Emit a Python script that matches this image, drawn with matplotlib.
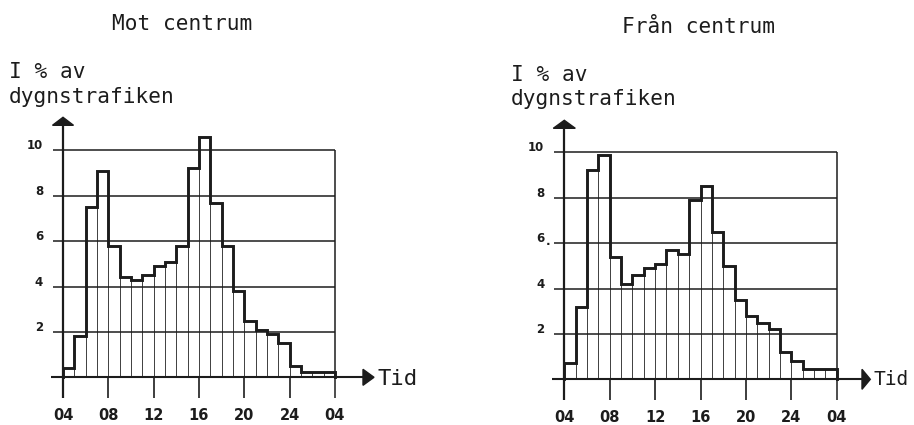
import matplotlib
matplotlib.use("Agg")
import matplotlib.pyplot as plt
from matplotlib.patches import Polygon

# Hourly share of daily traffic (%), hours counted from 04:00
hour_index = list(range(24))
mot_centrum = [0.4, 1.8, 7.5, 9.1, 5.8, 4.4, 4.3, 4.5, 4.9, 5.1, 5.8, 9.2,
               10.6, 7.7, 5.8, 3.8, 2.5, 2.1, 1.9, 1.5, 0.5, 0.25, 0.25, 0.25]
fran_centrum = [0.7, 3.2, 9.2, 9.9, 5.4, 4.2, 4.6, 4.9, 5.1, 5.7, 5.5, 7.9,
                8.5, 6.5, 5.0, 3.5, 2.8, 2.5, 2.2, 1.2, 0.8, 0.45, 0.45, 0.45]

x_tick_pos = [0, 4, 8, 12, 16, 20, 24]
x_tick_labels = ["04", "08", "12", "16", "20", "24", "04"]
y_tick_pos = [2, 4, 6, 8, 10]
y_labels_mot = ["2", "4", "6", "8", "10"]
y_labels_fran = ["2", "4", "6.", "8", "10"]

W, H = 914, 425
INK = "#1c1c1c"
MONO = "DejaVu Sans Mono"
NUM = "DejaVu Sans"
TXT = 15.2

fig = plt.figure(figsize=(W / 100, H / 100), dpi=100)
fig.patch.set_facecolor("white")


def ftext(x, y, s, **kw):
    fig.text(x / W, 1 - y / H, s, **kw)


def panel(ox, oy, sx, sy, values, ylabels, xarrow_base, xarrow_tip, xarrow_half,
          yarrow_base, yarrow_tip, yarrow_half):
    ax = fig.add_axes([ox / W, (H - oy) / H, 24 * sx / W, 10 * sy / H])
    ax.set_xlim(0, 24)
    ax.set_ylim(0, 10)
    ax.axis("off")
    px = lambda d: d / sx
    py = lambda d: d / sy
    kw = dict(color=INK, clip_on=False, solid_capstyle="butt")

    # horizontal reference lines
    for v in y_tick_pos:
        ax.plot([-px(10), 24], [v, v], lw=1.1, **kw)

    # hourly bars (thin dividers)
    ax.bar(hour_index, values, width=1, align="edge", fill=False,
           edgecolor="#444444", lw=0.7, clip_on=False)

    # outline of the distribution
    xs, ys = [0], [0]
    for i, v in enumerate(values):
        xs += [i, i + 1]
        ys += [v, v]
    xs.append(24)
    ys.append(0)
    ax.plot(xs, ys, lw=2.1, color=INK, clip_on=False, solid_joinstyle="miter")

    # axes
    ax.plot([-px(12), px(xarrow_base)], [0, 0], lw=1.5, **kw)
    ax.plot([0, 0], [-py(21), py(yarrow_base)], lw=1.6, **kw)
    ax.plot([24, 24], [-py(21), 10], lw=1.1, **kw)
    for t in x_tick_pos[1:-1]:
        ax.plot([t, t], [-py(21), 0], lw=1.2, **kw)

    # arrow heads
    ax.add_patch(Polygon([(px(xarrow_base), py(xarrow_half)),
                          (px(xarrow_tip), 0),
                          (px(xarrow_base), -py(xarrow_half))],
                         closed=True, color=INK, clip_on=False))
    ax.add_patch(Polygon([(-px(yarrow_half), py(yarrow_base)),
                          (0, py(yarrow_tip)),
                          (px(yarrow_half), py(yarrow_base))],
                         closed=True, color=INK, clip_on=False))

    # tick labels
    for t, lab in zip(x_tick_pos, x_tick_labels):
        ax.text(t, -py(38), lab, ha="center", va="center", fontsize=10.5,
                fontweight="bold", family=NUM, color=INK)
    for v, lab in zip(y_tick_pos, ylabels):
        if lab.endswith("."):
            ax.text(-px(20), v + py(4.5), lab[:-1], ha="right", va="center",
                    fontsize=8.5, fontweight="bold", family=NUM, color=INK)
            ax.text(-px(19), v + py(1.5), ".", ha="left", va="center",
                    fontsize=8.5, fontweight="bold", family=NUM, color=INK)
        else:
            ax.text(-px(20), v + py(4.5), lab, ha="right", va="center",
                    fontsize=8.5, fontweight="bold", family=NUM, color=INK)
    return ax


panel(63, 377.3, 11.33, 22.7, mot_centrum, y_labels_mot,
      300, 311, 8, 252, 260, 10.5)
panel(564.3, 379.3, 11.35, 22.7, fran_centrum, y_labels_fran,
      297.7, 306, 10, 251, 259, 11)

# titles and axis captions
ftext(182.5, 24, "Mot centrum", ha="center", va="center", fontsize=TXT,
      family=MONO, color=INK)
ftext(698, 27, "Från centrum", ha="center", va="center", fontsize=TXT,
      family=MONO, color=INK)

ftext(9, 78, "I % av", ha="left", va="baseline", fontsize=TXT, family=MONO, color=INK)
ftext(9, 103, "dygnstrafiken", ha="left", va="baseline", fontsize=TXT,
      family=MONO, color=INK)
ftext(511, 81, "I % av", ha="left", va="baseline", fontsize=TXT, family=MONO, color=INK)
ftext(511, 105, "dygnstrafiken", ha="left", va="baseline", fontsize=TXT,
      family=MONO, color=INK)

ftext(377, 385, "Tid", ha="left", va="baseline", fontsize=16, family=MONO, color=INK)
ftext(874, 385, "Tid", ha="left", va="baseline", fontsize=14, family=MONO, color=INK)

fig.savefig("out.png", dpi=100, facecolor="white")
